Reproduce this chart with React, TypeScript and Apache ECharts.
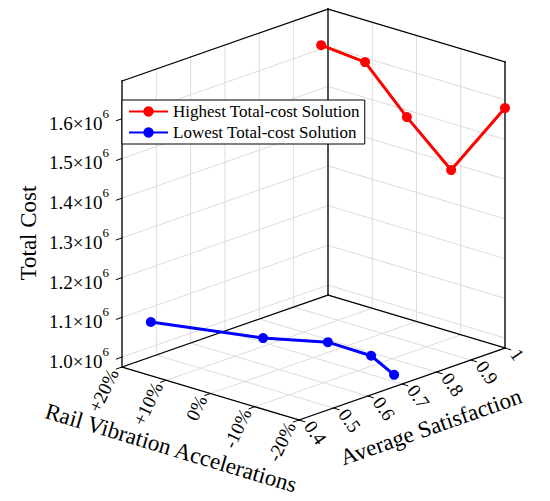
import React, { useEffect, useRef } from "react";
import * as echarts from "echarts";

// ---------- data ----------
const seriesNames = ["Highest Total-cost Solution", "Lowest Total-cost Solution"];

const highRail = [20, 10, 0, -10, -20];
const highSat = [0.98, 0.979, 0.972, 0.972, 1.0];
const highCost = [1.61e6, 1.601e6, 1.498e6, 1.398e6, 1.579e6];

const lowRail = [20, 10, 0, -10, -20];
const lowSat = [0.484, 0.682, 0.742, 0.739, 0.677];
const lowCost = [1.063e6, 0.996e6, 1.001e6, 1.001e6, 1.005e6];

const railTicks = [-20, -10, 0, 10, 20];
const railTickLabels = ["-20%", "-10%", "0%", "+10%", "+20%"];
const satTicks = [0.4, 0.5, 0.6, 0.7, 0.8, 0.9, 1.0];
const satTickLabels = ["0.4", "0.5", "0.6", "0.7", "0.8", "0.9", "1"];
const costTicks = [1.0e6, 1.1e6, 1.2e6, 1.3e6, 1.4e6, 1.5e6, 1.6e6];
const costTickLabels = ["1.0", "1.1", "1.2", "1.3", "1.4", "1.5", "1.6"];

// axis ranges
const RAIL_MIN = -20;
const RAIL_MAX = 20;
const SAT_MIN = 0.4;
const SAT_MAX = 1.0;
const COST_MIN = 0.975e6;
const COST_MAX = 1.695e6;

// ---------- projection (orthographic view of the 3D box) ----------
const ORIGIN = [299, 420]; // rail=-20, sat=0.4, cost=min
const VX = [-177, -53]; // full rail range
const VY = [206, -72]; // full satisfaction range
const VZ = [0, -286]; // full cost range

function proj(r: number, s: number, c: number): [number, number] {
  const a = (r - RAIL_MIN) / (RAIL_MAX - RAIL_MIN);
  const b = (s - SAT_MIN) / (SAT_MAX - SAT_MIN);
  const d = (c - COST_MIN) / (COST_MAX - COST_MIN);
  return [
    ORIGIN[0] + a * VX[0] + b * VY[0] + d * VZ[0],
    ORIGIN[1] + a * VX[1] + b * VY[1] + d * VZ[1],
  ];
}
function unit(v: number[], k: number): [number, number] {
  const l = Math.hypot(v[0], v[1]);
  return [(v[0] / l) * k, (v[1] / l) * k];
}
function seg(p: number[], q: number[]) {
  const a = proj(p[0], p[1], p[2]);
  const b = proj(q[0], q[1], q[2]);
  return [a[0], a[1], b[0], b[1]];
}

const FONT = "'Liberation Serif', 'Times New Roman', serif";

function segSeries(segs: number[][], color: string, width: number, z: number) {
  return {
    type: "custom",
    coordinateSystem: "cartesian2d",
    silent: true,
    clip: false,
    z,
    encode: { x: [0, 2], y: [1, 3] },
    data: segs,
    renderItem: (_p: any, api: any) => {
      const a = api.coord([api.value(0), api.value(1)]);
      const b = api.coord([api.value(2), api.value(3)]);
      return {
        type: "line",
        shape: { x1: a[0], y1: a[1], x2: b[0], y2: b[1] },
        style: { stroke: color, lineWidth: width, lineCap: "square" },
      };
    },
  };
}

function textSeries(
  pts: number[][],
  texts: string[],
  rotationDeg: number,
  align: string,
  fontSize: number,
  rich?: any
) {
  return {
    type: "custom",
    coordinateSystem: "cartesian2d",
    silent: true,
    clip: false,
    z: 3,
    encode: { x: 0, y: 1 },
    data: pts.map((p, i) => [p[0], p[1], i]),
    renderItem: (_p: any, api: any) => {
      const c = api.coord([api.value(0), api.value(1)]);
      const i = api.value(2);
      const style: any = {
        text: texts[i],
        align,
        verticalAlign: "middle",
        fontFamily: FONT,
        fontSize,
        fill: "#000",
      };
      if (rich) style.rich = rich;
      return {
        type: "text",
        x: c[0],
        y: c[1],
        rotation: (rotationDeg * Math.PI) / 180,
        style,
      };
    },
  };
}

export default function App() {
  const ref = useRef<HTMLDivElement>(null);
  useEffect(() => {
    const chart = echarts.init(ref.current!, undefined, { renderer: "svg" });

    // grid lines
    const grid: number[][] = [];
    // floor
    railTicks.forEach((r) => grid.push(seg([r, SAT_MIN, COST_MIN], [r, SAT_MAX, COST_MIN])));
    satTicks.forEach((s) => grid.push(seg([RAIL_MIN, s, COST_MIN], [RAIL_MAX, s, COST_MIN])));
    // left wall (rail = max)
    satTicks.forEach((s) => grid.push(seg([RAIL_MAX, s, COST_MIN], [RAIL_MAX, s, COST_MAX])));
    costTicks.forEach((c) => grid.push(seg([RAIL_MAX, SAT_MIN, c], [RAIL_MAX, SAT_MAX, c])));
    // back wall (sat = max)
    railTicks.forEach((r) => grid.push(seg([r, SAT_MAX, COST_MIN], [r, SAT_MAX, COST_MAX])));
    costTicks.forEach((c) => grid.push(seg([RAIL_MIN, SAT_MAX, c], [RAIL_MAX, SAT_MAX, c])));

    // box edges
    const box: number[][] = [
      seg([RAIL_MIN, SAT_MIN, COST_MIN], [RAIL_MAX, SAT_MIN, COST_MIN]),
      seg([RAIL_MIN, SAT_MIN, COST_MIN], [RAIL_MIN, SAT_MAX, COST_MIN]),
      seg([RAIL_MAX, SAT_MIN, COST_MIN], [RAIL_MAX, SAT_MAX, COST_MIN]),
      seg([RAIL_MIN, SAT_MAX, COST_MIN], [RAIL_MAX, SAT_MAX, COST_MIN]),
      seg([RAIL_MAX, SAT_MIN, COST_MIN], [RAIL_MAX, SAT_MIN, COST_MAX]),
      seg([RAIL_MAX, SAT_MAX, COST_MIN], [RAIL_MAX, SAT_MAX, COST_MAX]),
      seg([RAIL_MIN, SAT_MAX, COST_MIN], [RAIL_MIN, SAT_MAX, COST_MAX]),
      seg([RAIL_MAX, SAT_MIN, COST_MAX], [RAIL_MAX, SAT_MAX, COST_MAX]),
      seg([RAIL_MIN, SAT_MAX, COST_MAX], [RAIL_MAX, SAT_MAX, COST_MAX]),
    ];

    // ticks
    const tRail = unit([-VY[0], -VY[1]], 6);
    const tSat = unit([-VX[0], -VX[1]], 6);
    const ticks: number[][] = [];
    railTicks.forEach((r) => {
      const p = proj(r, SAT_MIN, COST_MIN);
      ticks.push([p[0], p[1], p[0] + tRail[0], p[1] + tRail[1]]);
    });
    satTicks.forEach((s) => {
      const p = proj(RAIL_MIN, s, COST_MIN);
      ticks.push([p[0], p[1], p[0] + tSat[0], p[1] + tSat[1]]);
    });
    costTicks.forEach((c) => {
      const p = proj(RAIL_MAX, SAT_MIN, c);
      ticks.push([p[0], p[1], p[0] + tRail[0], p[1] + tRail[1]]);
    });

    // tick label anchors
    const oRail = unit([-VY[0], -VY[1]], 9);
    const railLabelPts = railTicks.map((r) => {
      const p = proj(r, SAT_MIN, COST_MIN);
      return [p[0] + oRail[0], p[1] + oRail[1]];
    });
    const oSat = unit([-VX[0], -VX[1]], 10);
    const satLabelPts = satTicks.map((s) => {
      const p = proj(RAIL_MIN, s, COST_MIN);
      return [p[0] + oSat[0], p[1] + oSat[1]];
    });
    const costLabelPts = costTicks.map((c) => {
      const p = proj(RAIL_MAX, SAT_MIN, c);
      return [p[0] - 13, p[1] + 1];
    });
    const costTexts = costTickLabels.map((m) => `{m|${m}×10}{e|6}`);

    const option: any = {
      animation: false,
      backgroundColor: "#ffffff",
      grid: { left: 0, right: 0, top: 0, bottom: 0 },
      xAxis: { type: "value", min: 0, max: 550, show: false },
      yAxis: { type: "value", min: 0, max: 501, inverse: true, show: false },
      legend: {
        data: seriesNames,
        orient: "vertical",
        left: 122,
        top: 100,
        itemWidth: 39,
        itemHeight: 13,
        itemGap: 4,
        padding: [3, 5, 3, 6],
        backgroundColor: "#ffffff",
        borderColor: "#000000",
        borderWidth: 1,
        borderRadius: 0,
        selectedMode: false,
        textStyle: { fontFamily: FONT, fontSize: 17, color: "#000" },
      },
      graphic: [
        {
          type: "text",
          x: 28,
          y: 233,
          rotation: Math.PI / 2,
          style: {
            text: "Total Cost",
            fontFamily: FONT,
            fontSize: 23,
            fill: "#000",
            align: "center",
            verticalAlign: "middle",
          },
        },
        {
          type: "text",
          x: 171,
          y: 448,
          rotation: (-16.7 * Math.PI) / 180,
          style: {
            text: "Rail Vibration Accelerations",
            fontFamily: FONT,
            fontSize: 23,
            fill: "#000",
            align: "center",
            verticalAlign: "middle",
          },
        },
        {
          type: "text",
          x: 431,
          y: 427,
          rotation: (19.3 * Math.PI) / 180,
          style: {
            text: "Average Satisfaction",
            fontFamily: FONT,
            fontSize: 23,
            fill: "#000",
            align: "center",
            verticalAlign: "middle",
          },
        },
      ],
      series: [
        segSeries(grid, "#dcdcdc", 1, 1),
        segSeries(box, "#000000", 1.3, 2),
        segSeries(ticks, "#000000", 1, 2),
        textSeries(railLabelPts, railTickLabels, 64.5, "right", 19),
        textSeries(satLabelPts, satTickLabels, -55, "left", 19),
        textSeries(costLabelPts, costTexts, 0, "right", 19, {
          m: { fontFamily: FONT, fontSize: 19, lineHeight: 26, verticalAlign: "bottom", fill: "#000" },
          e: { fontFamily: FONT, fontSize: 13, lineHeight: 15, verticalAlign: "top", fill: "#000" },
        }),
        {
          type: "line",
          name: seriesNames[1],
          data: lowRail.map((r, i) => proj(r, lowSat[i], lowCost[i])),
          symbol: "circle",
          symbolSize: 10,
          clip: false,
          z: 5,
          lineStyle: { width: 3, color: "#0000ff" },
          itemStyle: { color: "#0000ff" },
        },
        {
          type: "line",
          name: seriesNames[0],
          data: highRail.map((r, i) => proj(r, highSat[i], highCost[i])),
          symbol: "circle",
          symbolSize: 10,
          clip: false,
          z: 5,
          lineStyle: { width: 3, color: "#ff0000" },
          itemStyle: { color: "#ff0000" },
        },
      ],
    };
    chart.setOption(option);
    return () => chart.dispose();
  }, []);
  return (
    <div
      ref={ref}
      style={{ position: "fixed", left: 0, top: 0, width: 550, height: 501 }}
    />
  );
}
